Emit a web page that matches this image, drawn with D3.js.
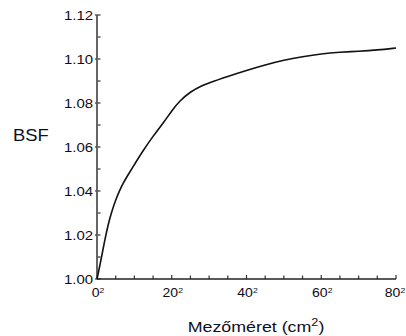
<!DOCTYPE html>
<html><head><meta charset="utf-8">
<script src="https://cdn.jsdelivr.net/npm/d3@7"></script>
<style>
html,body{margin:0;padding:0;background:#fff;}
svg{display:block;}
text{font-family:"Liberation Sans",Arial,Helvetica,sans-serif;fill:#0e0e22;}
</style></head>
<body>
<svg id="c" width="406" height="336"></svg>
<script>
// field side length (cm) -> label shown as side²
const sides = [0, 1, 2, 3, 4, 5, 6, 7, 8, 10, 12, 15, 18, 20, 22, 25, 28, 30, 35, 40, 45, 50, 55, 60, 65, 70, 75, 80];
const bsf   = [1.000, 1.008, 1.017, 1.025, 1.031, 1.036, 1.040, 1.0435, 1.0465, 1.052, 1.0575, 1.065, 1.0715, 1.0765, 1.0808, 1.0852, 1.0878, 1.0892, 1.0921, 1.0948, 1.0973, 1.0995, 1.1011, 1.1024, 1.1031, 1.1035, 1.1041, 1.1050];
const xTicks = [0, 20, 40, 60, 80];
const yTicks = [1.00, 1.02, 1.04, 1.06, 1.08, 1.10, 1.12];
const xLabel = "Mezőméret (cm";
const yLabel = "BSF";

const svg = d3.select("#c");
const x = d3.scaleLinear().domain([0, 80]).range([97, 396]);
const y = d3.scaleLinear().domain([1.00, 1.12]).range([279, 15]);
const SX = 1.15;

// minor ticks
const xMinor = d3.range(0, 81, 5);
const yMinor = d3.range(0, 13).map(i => 1 + i * 0.01);

const ax = svg.append("g");
ax.selectAll(".xm").data(xMinor).join("line")
  .attr("x1", d => x(d)).attr("x2", d => x(d))
  .attr("y1", y(1)).attr("y2", d => y(1) - (d % 20 === 0 ? 4 : 3.5))
  .attr("stroke", "#333").attr("stroke-width", 1.2);
ax.selectAll(".ym").data(yMinor).join("line")
  .attr("y1", d => y(d)).attr("y2", d => y(d))
  .attr("x1", (d, i) => x(0) - (i % 2 === 0 ? 2 : 0)).attr("x2", x(0) + 3.5)
  .attr("stroke", "#333").attr("stroke-width", 1.2);

// axis lines
ax.append("line").attr("x1", x(0)).attr("x2", x(0)).attr("y1", y(1)).attr("y2", y(1.12))
  .attr("stroke", "#555").attr("stroke-width", 1.8);
ax.append("line").attr("x1", x(0)).attr("x2", x(80)).attr("y1", y(1)).attr("y2", y(1))
  .attr("stroke", "#222").attr("stroke-width", 1.6);

// y tick labels
svg.append("g").selectAll("text").data(yTicks).join("text")
  .attr("transform", d => `translate(93,${y(d) + 4.5}) scale(${SX},1)`)
  .attr("text-anchor", "end").attr("font-size", 13)
  .text(d => d.toFixed(2));

// x tick labels with superscript 2
const xl = svg.append("g").selectAll("text").data(xTicks).join("text")
  .attr("transform", d => `translate(${x(d) + (d === 80 ? -1 : 1)},297) scale(1.08,1)`)
  .attr("text-anchor", "middle").attr("font-size", 13);
xl.append("tspan").text(d => d);
xl.append("tspan").attr("font-size", 8).attr("dy", -4.5).text("2");

// axis titles
svg.append("text").attr("transform", `translate(13,141) scale(${SX},1)`)
  .attr("font-size", 16).text(yLabel);
const t = svg.append("text").attr("transform", `translate(256,332) scale(${SX},1)`)
  .attr("text-anchor", "middle").attr("font-size", 15.5);
t.append("tspan").text(xLabel);
t.append("tspan").attr("font-size", 11).attr("dy", -6).text("2");
t.append("tspan").attr("dy", 6).text(")");

// curve
const line = d3.line().x((d, i) => x(sides[i])).y(d => y(d)).curve(d3.curveBasis);
svg.append("path").datum(bsf).attr("d", line)
  .attr("fill", "none").attr("stroke", "#111").attr("stroke-width", 1.6);
</script>
</body></html>
